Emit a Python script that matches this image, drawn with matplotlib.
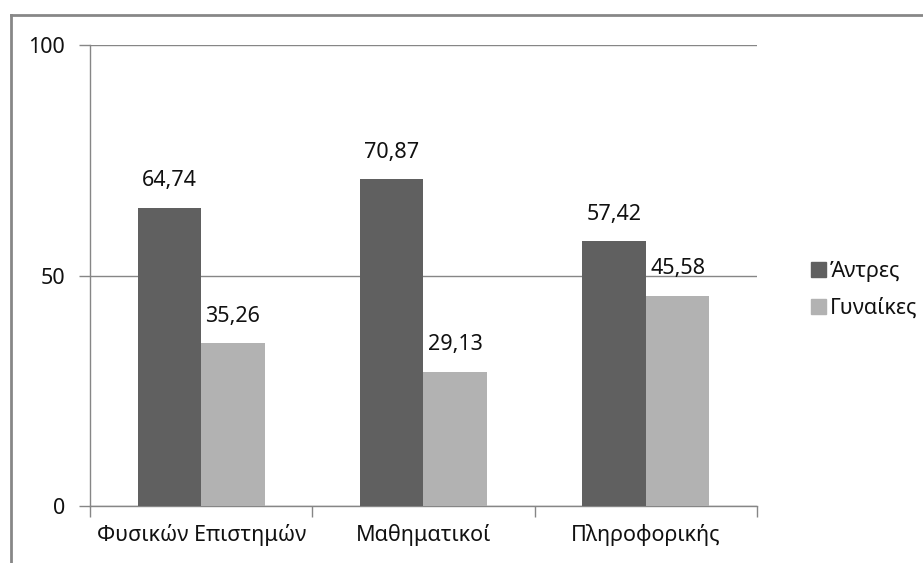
import matplotlib
matplotlib.use("Agg")
import matplotlib.pyplot as plt
from matplotlib.patches import Rectangle
from matplotlib.lines import Line2D
import numpy as np

plt.rcParams['font.family'] = ['Noto Sans', 'DejaVu Sans']

categories = ["Φυσικών Επιστημών", "Μαθηματικοί", "Πληροφορικής"]
men = [64.74, 70.87, 57.42]
women = [35.26, 29.13, 45.58]
series_names = ["Άντρες", "Γυναίκες"]
yticks = [0, 50, 100]

DARK = "#606060"
LIGHT = "#B2B2B2"
AXIS = "#868686"
TEXT = "#111111"
FS = 15.5

fig = plt.figure(figsize=(9.23, 5.63), dpi=100)
ax = fig.add_axes([90/923, 1-506/563, (757-90)/923, (506-45)/563])

x = np.arange(len(categories))
w = 0.286
b1 = ax.bar(x - w/2, men, w, color=DARK, label=series_names[0], zorder=3)
b2 = ax.bar(x + w/2, women, w, color=LIGHT, label=series_names[1], zorder=3)

def fmt(v):
    return f"{v:.2f}".replace(".", ",")

for bars, vals in ((b1, men), (b2, women)):
    for r, v in zip(bars, vals):
        ax.annotate(fmt(v), (r.get_x() + r.get_width()/2, v),
                    xytext=(0, 12), textcoords="offset points",
                    ha="center", va="bottom", fontsize=FS, color=TEXT, zorder=4)

ax.set_xlim(-0.5, len(categories) - 0.5)
ax.set_ylim(0, 100)
ax.set_yticks(yticks)
ax.set_yticklabels([str(t) for t in yticks], fontsize=FS, color=TEXT)
ax.yaxis.grid(True, color=AXIS, linewidth=1.0, zorder=1)
ax.set_axisbelow(True)

ax.set_xticks(x)
ax.set_xticklabels(categories, fontsize=FS, color=TEXT)
ax.tick_params(axis="x", which="major", length=0, pad=13)
ax.set_xticks(np.arange(-0.5, len(categories)), minor=True)
ax.tick_params(axis="x", which="minor", length=8, color=AXIS, width=1)
ax.tick_params(axis="y", length=8, color=AXIS, width=1, pad=10)

for s in ("top", "right"):
    ax.spines[s].set_visible(False)
for s in ("left", "bottom"):
    ax.spines[s].set_color(AXIS)
    ax.spines[s].set_linewidth(1.0)

# legend
fig.legend(handles=[Rectangle((0, 0), 1, 1, color=DARK), Rectangle((0, 0), 1, 1, color=LIGHT)],
           labels=series_names, loc="center left", bbox_to_anchor=(792/923, 1-290/563),
           frameon=False, fontsize=FS, handlelength=0.7, handleheight=0.7,
           handletextpad=0.15, labelspacing=0.75, labelcolor=TEXT)

# outer chart frame
fig.add_artist(Line2D([11/923, 1.01], [1-15/563, 1-15/563], transform=fig.transFigure,
                      color="#878787", linewidth=2))
fig.add_artist(Line2D([11/923, 11/923], [1-15/563, -0.01], transform=fig.transFigure,
                      color="#878787", linewidth=2))

fig.savefig("out.png", dpi=100)
